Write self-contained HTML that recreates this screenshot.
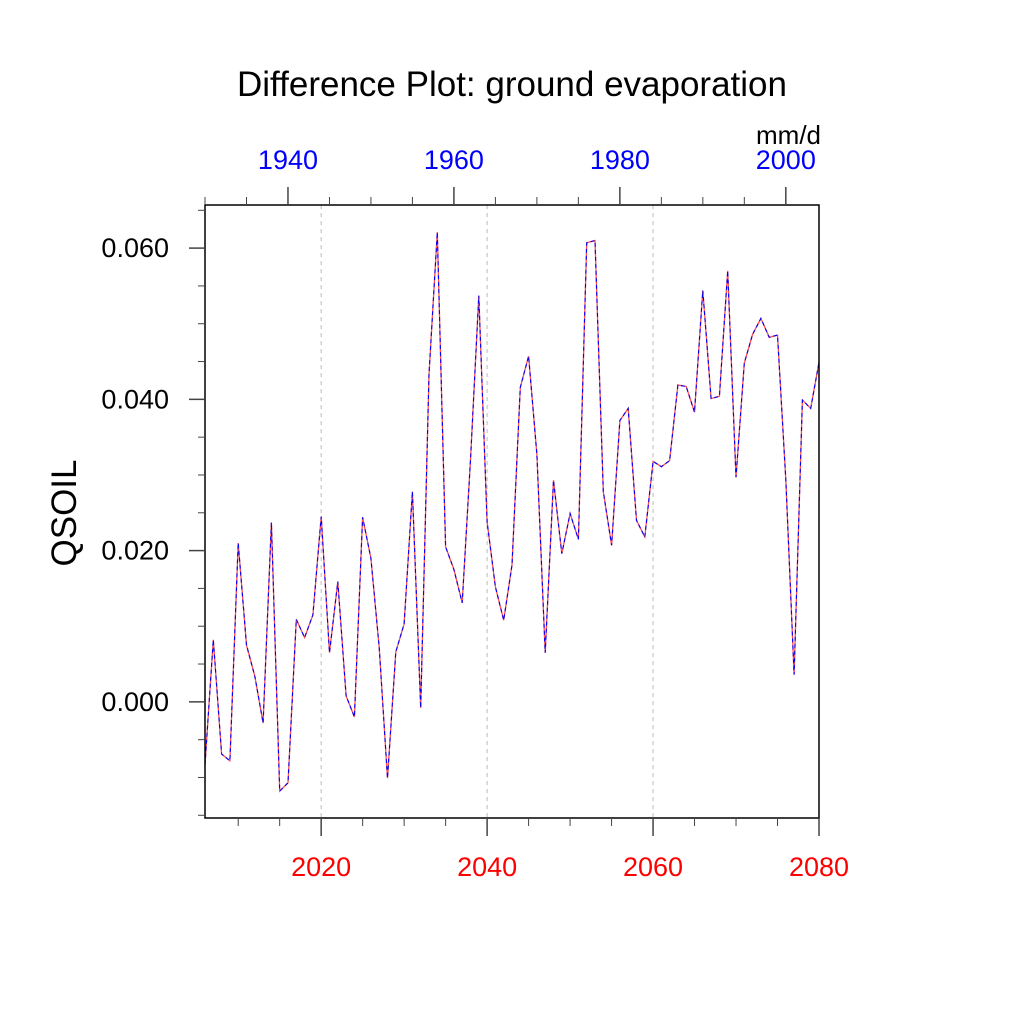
<!DOCTYPE html>
<html><head><meta charset="utf-8"><style>
html,body{margin:0;padding:0;background:#fff;}
svg{display:block;font-family:"Liberation Sans",Arial,sans-serif;}
</style></head><body>
<svg id="chart" width="1024" height="1024" viewBox="0 0 1024 1024">
<text x="512" y="96" font-size="35" text-anchor="middle">Difference Plot: ground evaporation</text>
<text x="0" y="0" font-size="35" text-anchor="middle" transform="translate(76,513) rotate(-90)">QSOIL</text>
<text x="821" y="144" font-size="26" text-anchor="end">mm/d</text>
<g id="grid"></g>
<g id="series"></g>
<rect x="205" y="205" width="614" height="613" fill="none" stroke="#000" stroke-width="1.5"/>
<g id="axes"></g>
</svg>
<script>
const years = [];
for (let y = 2006; y <= 2080; y++) years.push(y);
const values = [-0.0083,0.0082,-0.0069,-0.0078,0.021,0.0075,0.0034,-0.0028,0.0237,-0.0118,
-0.0107,0.0109,0.0085,0.0115,0.0245,0.0065,0.0159,0.0008,-0.002,0.0244,
0.019,0.0072,-0.0101,0.0066,0.0103,0.0278,-0.0008,0.0433,0.0621,0.0205,
0.0175,0.0131,0.032,0.0537,0.0238,0.0152,0.0108,0.0181,0.0416,0.0457,
0.0327,0.0065,0.0293,0.0196,0.0249,0.0215,0.0607,0.061,0.0278,0.0207,
0.0372,0.0388,0.024,0.0218,0.0318,0.0311,0.0319,0.0419,0.0417,0.0383,
0.0544,0.0401,0.0404,0.057,0.0297,0.0448,0.0486,0.0507,0.0482,0.0485,
0.0294,0.0036,0.0399,0.0388,0.0449];
const yTickValues = [0.0, 0.02, 0.04, 0.06];
const yTickLabels = ["0.000","0.020","0.040","0.060"];
const bottomTickYears = [2020, 2040, 2060, 2080];
const bottomTickLabels = ["2020","2040","2060","2080"];
const topTickYears = [1940, 1960, 1980, 2000];
const topTickLabels = ["1940","1960","1980","2000"];
const topOffset = 76;

const L=205,R=819,T=205,B=818, X0=2006,X1=2080, Y0=-0.01536, Y1=0.0657;
const sx = v => L + (v - X0) / (X1 - X0) * (R - L);
const sy = v => B - (v - Y0) / (Y1 - Y0) * (B - T);
const NS="http://www.w3.org/2000/svg";
function mk(tag, attrs, parent){const e=document.createElementNS(NS,tag);for(const k in attrs)e.setAttribute(k,attrs[k]);parent.appendChild(e);return e;}
const grid=document.getElementById('grid'), axes=document.getElementById('axes'), series=document.getElementById('series');

bottomTickYears.forEach(y=>{ if(y<X1){ const g=mk('line',{x1:sx(y),x2:sx(y),y1:T,y2:B,stroke:'#bbb','stroke-width':1,'stroke-dasharray':'4,4'},grid);

 }});

const pts = years.map((y,i)=>sx(y).toFixed(1)+','+sy(values[i]).toFixed(1)).join(' ');
const red=mk('polyline',{points:pts,fill:'none',stroke:'#ff5050','stroke-width':1.3},series);


const blue=mk('polyline',{points:pts,fill:'none',stroke:'#0000ff','stroke-width':1.1,'stroke-dasharray':'4,3'},series);



for(let k=-15;k<=65;k+=5){const v=k/1000; const major=(k%20===0); const y=sy(v);
 const t=mk('line',{x1:L-(major?16:7),x2:L,y1:y,y2:y,stroke:'#444','stroke-width':major?1.5:1},axes);
 
 }
yTickValues.forEach((v,i)=>{const t=mk('text',{x:169,y:sy(v)+9,'font-size':27,'text-anchor':'end'},axes);t.textContent=yTickLabels[i];
 
 });
for(let y=2010;y<=2080;y+=5){const major=(y%20===0);
 const t=mk('line',{x1:sx(y),x2:sx(y),y1:B,y2:B+(major?18:8),stroke:'#444','stroke-width':major?1.5:1},axes);
 
 }
bottomTickYears.forEach((y,i)=>{const t=mk('text',{x:sx(y),y:876,'font-size':27,'text-anchor':'middle',fill:'#ff0000'},axes);t.textContent=bottomTickLabels[i];
 
 });
for(let y=1930;y<=2004;y+=5){const major=(y%20===0); const x=sx(y+topOffset);
 const t=mk('line',{x1:x,x2:x,y1:T,y2:T-(major?18:8),stroke:'#444','stroke-width':major?1.5:1},axes);
 
 }
topTickYears.forEach((y,i)=>{const t=mk('text',{x:sx(y+topOffset),y:169,'font-size':27,'text-anchor':'middle',fill:'#0000ff'},axes);t.textContent=topTickLabels[i];
 
 });
</script>
</body></html>
